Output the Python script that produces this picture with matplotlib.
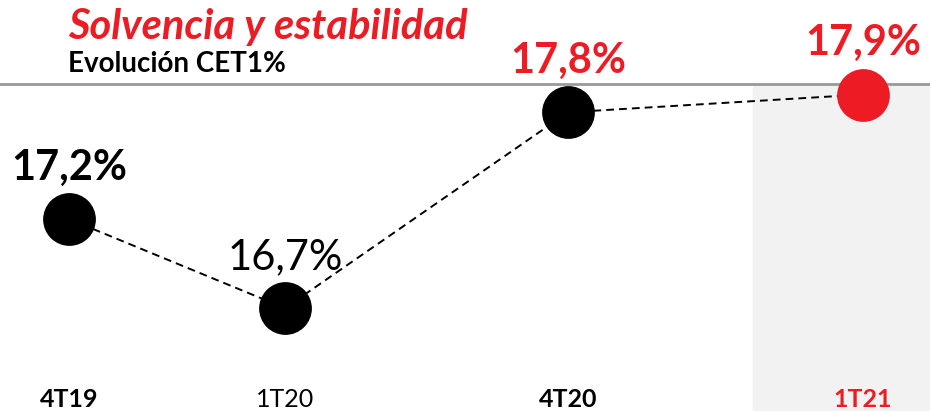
import matplotlib
matplotlib.use("Agg")
import matplotlib.pyplot as plt
import matplotlib.transforms as mtransforms

plt.rcParams['font.family'] = ['Lato', 'DejaVu Sans']

# datos
trimestres = ['4T19', '1T20', '4T20', '1T21']
cet1 = [17.2, 16.7, 17.8, 17.9]
etiquetas = ['17,2%', '16,7%', '17,8%', '17,9%']
negrita = [True, False, True, True]

ROJO = '#ED1C24'
colores = ['black', 'black', 'black', ROJO]
colores_txt = ['black', 'black', ROJO, ROJO]
colores_tick = ['black', 'black', 'black', ROJO]

# posiciones horizontales (como en la diapositiva)
x_pos = [0, 0.816, 1.885, 3.0]

fig = plt.figure(figsize=(9.3, 4.11), dpi=100)
ax = fig.add_axes([0, 0, 1, 1])
ax.set_xlim(-0.261, 3.253)
ax.set_ylim(16.122, 18.431)
ax.axis('off')

# zona sombreada del ultimo trimestre y linea gris superior
ax.axvspan(2.585, 3.253, ymin=0, ymax=1 - 84 / 411, color='#F2F2F2', zorder=0)
ax.axhline(18.431 - 84 / 178, color='#999999', lw=2, zorder=1)

ax.plot(x_pos, cet1, ls=(0, (4, 2.6)), color='black', lw=1.4, zorder=2)
for x, y, c in zip(x_pos, cet1, colores):
    ax.plot(x, y, 'o', ms=38, color=c, mec='none', zorder=3)

for x, y, t, b, c in zip(x_pos, cet1, etiquetas, negrita, colores_txt):
    ax.annotate(t, (x, y), xytext=(0, 37), textcoords='offset points',
                ha='center', va='center', fontsize=30,
                fontweight='bold' if b else 'normal', color=c, zorder=4)

trans = mtransforms.blended_transform_factory(ax.transData, ax.transAxes)
for x, t, b, c in zip(x_pos, trimestres, negrita, colores_tick):
    ax.text(x, 1 - 399 / 411, t, transform=trans, ha='center', va='center',
            fontsize=18, fontweight='bold' if b else 'normal', color=c)

fig.text(68 / 930, 1 - 27 / 411, 'Solvencia y estabilidad', color=ROJO,
         fontsize=30, fontweight='bold', fontstyle='italic', va='center')
fig.text(68 / 930, 1 - 64 / 411, 'Evolución CET1%', color='black',
         fontsize=20, fontweight='bold', va='center')

fig.savefig('out.png', dpi=100)
